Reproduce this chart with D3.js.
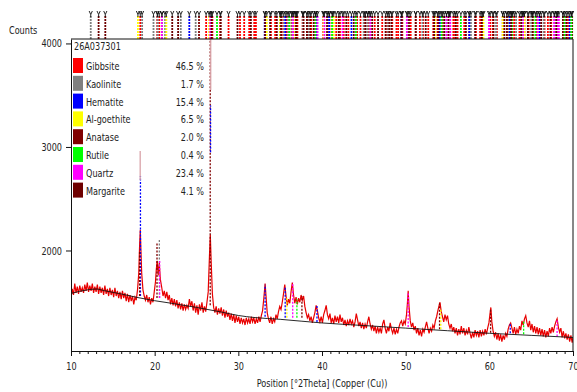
<!DOCTYPE html>
<meta charset="utf-8">
<script src="https://d3js.org/d3.v7.min.js"></script>
<style>
body { margin: 0; background: #fff; }
text { font-family: "DejaVu Sans Condensed", "Liberation Sans Narrow", Arial, sans-serif; fill: #222; }
</style>
<div id="chart"></div>
<script>

// ---- data ----
var sampleName = "26A037301";
var phases = ["Gibbsite", "Kaolinite", "Hematite", "Al-goethite", "Anatase", "Rutile", "Quartz", "Margarite"];
var percents = [46.5, 1.7, 15.4, 6.5, 2.0, 0.4, 23.4, 4.1];
var phaseColors = ["#ff0000", "#808080", "#0000ff", "#ffff00", "#800000", "#00ff00", "#ff00ff", "#6e0000"];

var xTicks = [10, 20, 30, 40, 50, 60, 70];
var yTicks = [2000, 3000, 4000];

// reference pattern positions (°2Theta), one list per phase
var sticks = {
  "Gibbsite": [18.28, 20.31, 20.55, 26.15, 26.9, 27.83, 28.83, 30.2, 30.7, 31.3, 31.9, 32.1, 33.9, 34.4, 35.2, 35.8, 36.36, 36.62, 37.06, 37.68, 38.2, 38.7, 39.25, 40.15, 40.9, 41.7, 42.15, 42.6, 43.15, 44.2, 44.6, 45.1, 45.5, 46.3, 47.2, 47.8, 48.4, 48.9, 49.1, 49.6, 50.6, 51.2, 51.7, 52.1, 52.7, 53.3, 53.8, 54.4, 55.2, 55.7, 55.9, 56.2, 57.0, 57.6, 58.4, 58.9, 59.2, 60.1, 60.4, 60.9, 61.6, 62.1, 62.8, 63.0, 63.6, 64.2, 64.7, 65.1, 65.6, 66.0, 66.6, 67.0, 67.4, 68.1, 68.8, 69.4, 69.8],
  "Kaolinite": [12.36, 18.5, 19.86, 20.36, 20.88, 21.24, 23.12, 24.9, 34.98, 35.42, 35.96, 36.44, 37.72, 38.42, 39.24, 40.7, 41.26, 44.98, 45.44, 45.72, 47.9, 50.2, 52.0, 54.88, 55.24, 57.8, 60.8, 62.3, 63.2, 65.0, 66.5, 67.8],
  "Hematite": [24.14, 33.15, 35.61, 39.28, 40.85, 43.52, 49.48, 54.09, 57.6, 62.45, 64.0, 66.0, 69.6],
  "Al-goethite": [18.0, 21.4, 26.5, 33.4, 35.0, 36.8, 40.2, 41.4, 53.5, 59.3, 61.6, 64.2, 65.2],
  "Anatase": [25.3, 36.95, 37.8, 38.6, 48.05, 53.9, 55.1, 62.1, 62.7, 68.8, 69.9],
  "Rutile": [27.45, 36.1, 39.2, 41.2, 44.05, 54.3, 56.6, 62.7, 64.0, 65.5, 69.0, 69.8],
  "Quartz": [20.86, 26.64, 36.54, 39.47, 40.29, 42.45, 45.79, 50.14, 54.87, 55.33, 59.96, 64.04, 65.79, 67.74, 68.14, 68.31],
  "Margarite": [13.3, 14.1, 22.1, 22.8, 26.8, 27.9, 29.9, 31.5, 33.2, 33.8, 34.6, 35.1, 36.9, 38.2, 39.0, 40.6, 42.0, 42.9, 43.8, 45.2, 46.0, 46.7, 47.6, 48.3, 49.5, 50.4, 51.2, 52.4, 53.4, 54.6, 56.0, 57.2, 58.3, 59.1, 60.5, 61.8, 62.6, 63.8, 64.6, 65.2, 66.2, 67.3, 68.0, 69.2]
};

// background (black line), [2Theta, counts]
var background = [[10, 1585], [12, 1620], [13, 1628], [14, 1612], [16, 1580], [18, 1545], [20, 1515], [22, 1490], [25, 1450], [28, 1405], [30, 1372], [32, 1352], [35, 1335], [40, 1300], [45, 1275], [50, 1250], [55, 1225], [60, 1200], [65, 1180], [70, 1160]];

// observed counts (red line), [2Theta, counts]
var observed = [
  [10.0,1540],[10.15,1630],[10.3,1570],[10.45,1680],[10.6,1590],[10.75,1650],[10.9,1580],[11.05,1660],[11.2,1600],[11.35,1640],
  [11.5,1590],[11.65,1670],[11.8,1610],[11.95,1690],[12.1,1600],[12.25,1660],[12.4,1610],[12.55,1680],[12.7,1590],[12.85,1650],
  [13.0,1600],[13.15,1670],[13.3,1580],[13.45,1650],[13.6,1590],[13.75,1640],[13.9,1570],[14.05,1660],[14.2,1580],[14.35,1630],
  [14.5,1560],[14.65,1640],[14.8,1570],[14.95,1620],[15.1,1550],[15.25,1640],[15.4,1560],[15.55,1610],[15.7,1540],[15.85,1600],
  [16.0,1530],[16.15,1610],[16.3,1540],[16.45,1590],[16.6,1510],[16.75,1580],[16.9,1500],[17.05,1570],[17.2,1510],[17.35,1560],
  [17.5,1480],[17.65,1550],[17.8,1520],[17.95,1620],[18.1,1780],[18.2,2050],[18.28,2200],[18.36,2000],[18.45,1780],[18.6,1620],
  [18.75,1560],[18.9,1520],[19.05,1570],[19.2,1500],[19.35,1550],[19.5,1480],[19.65,1540],[19.8,1500],[19.95,1600],[20.1,1700],
  [20.2,1820],[20.3,1900],[20.42,1760],[20.55,1880],[20.68,1720],[20.85,1640],[21.0,1560],[21.15,1610],[21.3,1540],[21.45,1600],
  [21.6,1520],[21.75,1570],[21.9,1480],[22.05,1540],[22.2,1470],[22.35,1530],[22.5,1460],[22.65,1520],[22.8,1440],[22.95,1500],
  [23.1,1430],[23.25,1490],[23.4,1420],[23.55,1480],[23.7,1430],[23.85,1470],[24.0,1440],[24.15,1530],[24.3,1460],[24.45,1510],
  [24.6,1420],[24.75,1490],[24.9,1400],[25.05,1470],[25.2,1380],[25.35,1480],[25.5,1420],[25.65,1500],[25.8,1400],[25.95,1460],
  [26.1,1410],[26.25,1500],[26.4,1600],[26.55,1950],[26.65,2150],[26.75,1900],[26.9,1580],[27.05,1450],[27.2,1400],[27.35,1460],
  [27.5,1380],[27.65,1440],[27.8,1390],[27.95,1450],[28.1,1370],[28.25,1430],[28.4,1350],[28.55,1420],[28.7,1360],[28.85,1400],
  [29.0,1330],[29.15,1390],[29.3,1320],[29.45,1380],[29.6,1300],[29.75,1370],[29.9,1310],[30.05,1360],[30.2,1290],[30.35,1350],
  [30.5,1300],[30.65,1340],[30.8,1280],[30.95,1350],[31.1,1300],[31.25,1340],[31.4,1290],[31.55,1360],[31.7,1310],[31.85,1350],
  [32.0,1290],[32.15,1340],[32.3,1300],[32.45,1360],[32.6,1310],[32.75,1370],[32.9,1420],[33.05,1540],[33.2,1680],[33.3,1570],
  [33.45,1400],[33.6,1340],[33.75,1300],[33.9,1360],[34.05,1290],[34.2,1340],[34.35,1310],[34.5,1380],[34.65,1340],[34.8,1410],
  [34.95,1460],[35.1,1430],[35.25,1500],[35.4,1580],[35.55,1670],[35.7,1560],[35.85,1470],[36.0,1530],[36.15,1490],[36.3,1600],
  [36.45,1690],[36.6,1570],[36.75,1490],[36.9,1550],[37.05,1480],[37.2,1540],[37.35,1500],[37.5,1570],[37.65,1520],[37.8,1560],
  [37.95,1460],[38.1,1400],[38.25,1350],[38.4,1380],[38.55,1320],[38.7,1360],[38.85,1300],[39.0,1350],[39.15,1400],[39.3,1470],
  [39.45,1420],[39.6,1350],[39.75,1310],[39.9,1360],[40.05,1300],[40.2,1380],[40.35,1420],[40.5,1470],[40.65,1380],[40.8,1340],
  [40.95,1390],[41.1,1300],[41.25,1350],[41.4,1290],[41.55,1370],[41.7,1310],[41.85,1360],[42.0,1300],[42.15,1380],[42.3,1310],
  [42.45,1350],[42.6,1280],[42.75,1330],[42.9,1270],[43.05,1320],[43.2,1280],[43.35,1340],[43.5,1290],[43.65,1320],[43.8,1260],
  [43.95,1310],[44.1,1390],[44.25,1330],[44.4,1270],[44.55,1310],[44.7,1250],[44.85,1300],[45.0,1240],[45.15,1290],[45.3,1250],
  [45.45,1310],[45.6,1360],[45.75,1290],[45.9,1240],[46.05,1280],[46.2,1220],[46.35,1270],[46.5,1200],[46.65,1260],[46.8,1210],
  [46.95,1250],[47.1,1200],[47.25,1290],[47.4,1330],[47.55,1250],[47.7,1200],[47.85,1260],[48.0,1220],[48.15,1300],[48.3,1240],
  [48.45,1200],[48.6,1250],[48.75,1190],[48.9,1240],[49.05,1200],[49.2,1260],[49.35,1300],[49.5,1320],[49.65,1270],[49.8,1320],
  [49.95,1290],[50.1,1380],[50.2,1480],[50.3,1610],[50.4,1460],[50.55,1320],[50.7,1260],[50.85,1300],[51.0,1230],[51.15,1270],
  [51.3,1200],[51.45,1250],[51.6,1180],[51.75,1230],[51.9,1170],[52.05,1240],[52.2,1210],[52.35,1260],[52.5,1310],[52.65,1250],
  [52.8,1200],[52.95,1250],[53.1,1220],[53.25,1280],[53.4,1250],[53.55,1320],[53.7,1360],[53.85,1420],[54.0,1470],[54.1,1500],
  [54.25,1410],[54.4,1360],[54.55,1310],[54.7,1380],[54.85,1330],[55.0,1370],[55.15,1290],[55.3,1250],[55.45,1290],[55.6,1220],
  [55.75,1260],[55.9,1200],[56.05,1250],[56.2,1180],[56.35,1240],[56.5,1190],[56.65,1270],[56.8,1200],[56.95,1250],[57.1,1180],
  [57.25,1230],[57.4,1190],[57.55,1260],[57.7,1200],[57.85,1150],[58.0,1210],[58.15,1160],[58.3,1230],[58.45,1180],[58.6,1220],
  [58.75,1160],[58.9,1230],[59.05,1170],[59.2,1220],[59.35,1180],[59.5,1240],[59.65,1190],[59.8,1250],[59.95,1300],[60.1,1400],
  [60.18,1450],[60.3,1310],[60.45,1220],[60.6,1170],[60.75,1210],[60.9,1140],[61.05,1200],[61.2,1130],[61.35,1190],[61.5,1120],
  [61.65,1180],[61.8,1140],[61.95,1200],[62.1,1170],[62.25,1240],[62.4,1280],[62.55,1300],[62.7,1250],[62.85,1200],[63.0,1260],
  [63.15,1190],[63.3,1240],[63.45,1200],[63.6,1270],[63.75,1230],[63.9,1320],[64.05,1280],[64.2,1340],[64.35,1370],[64.5,1300],
  [64.65,1260],[64.8,1320],[64.95,1230],[65.1,1290],[65.25,1210],[65.4,1270],[65.55,1200],[65.7,1260],[65.85,1190],[66.0,1250],
  [66.15,1180],[66.3,1240],[66.45,1170],[66.6,1230],[66.75,1160],[66.9,1220],[67.05,1170],[67.2,1250],[67.35,1200],[67.5,1260],
  [67.65,1210],[67.8,1270],[67.95,1310],[68.1,1340],[68.25,1260],[68.4,1210],[68.55,1250],[68.7,1160],[68.85,1220],[69.0,1150],
  [69.15,1200],[69.3,1140],[69.45,1190],[69.6,1120],[69.75,1180],[69.9,1110],[70.0,1160]
];

// phase profile marks drawn in the plot: [2Theta, from counts, to counts, key]
var profileMarks = [
  [18.3, 1560, 2720, "Hematite"], [18.27, 2680, 2960, "Calc"], [18.2, 1560, 2000, "Anatase"],
  [20.28, 1540, 2080, "Anatase"], [20.56, 1540, 2115, "Kaolinite"], [20.6, 1540, 1900, "Quartz"],
  [26.64, 1470, 4043, "Anatase"], [26.68, 2950, 3400, "Hematite"], [26.7, 3550, 4043, "Calc"],
  [33.2, 1360, 1670, "Hematite"], [35.6, 1350, 1650, "Hematite"], [35.8, 1350, 1540, "Al-goethite"],
  [36.5, 1350, 1690, "Quartz"], [37.0, 1350, 1530, "Rutile"], [37.6, 1350, 1560, "Anatase"],
  [39.4, 1310, 1470, "Hematite"], [50.3, 1260, 1600, "Quartz"], [54.05, 1240, 1490, "Anatase"],
  [54.2, 1240, 1440, "Al-goethite"], [60.15, 1205, 1440, "Anatase"], [64.1, 1190, 1320, "Rutile"],
  [62.5, 1200, 1290, "Hematite"], [68.1, 1170, 1330, "Quartz"]
];

// ---- layout ----
var W = 577, H = 392;
var x = d3.scaleLinear().domain([10, 70]).range([71, 573]);
var y = d3.scaleLinear().domain([1029, 4043]).range([351, 39]);
var colorOf = d3.scaleOrdinal().domain(phases.concat(["Calc"])).range(phaseColors.concat(["#d9a3a8"]));
var narrow = 0.82;   // horizontal squeeze of the narrow font

var svg = d3.select("#chart").append("svg")
  .attr("width", W).attr("height", H);

svg.append("clipPath").attr("id", "plotclip")
  .append("rect").attr("x", 71).attr("y", 39).attr("width", 502).attr("height", 312);

// small helper for squeezed labels
function label(g, px, py, str, anchor) {
  return g.append("text")
    .attr("transform", "translate(" + px + "," + py + ") scale(" + narrow + ",1)")
    .attr("text-anchor", anchor || "start")
    .style("font-size", "11px")
    .text(str);
}

// ---- top strip of reference sticks ----
var stickData = [];
phases.forEach(function(p) {
  sticks[p].forEach(function(t) { stickData.push({t: t, p: p}); });
});
var strip = svg.append("g");
strip.selectAll("line.stk")
  .data(stickData)
  .enter().append("line")
    .attr("x1", function(d) { return x(d.t); })
    .attr("x2", function(d) { return x(d.t); })
    .attr("y1", 39).attr("y2", 15)
    .attr("stroke", function(d) { return colorOf(d.p); })
    .attr("stroke-width", 1.8)
    .attr("stroke-dasharray", "2,1");
strip.selectAll("path.yy")
  .data(stickData)
  .enter().append("path")
    .attr("d", function(d) {
      var cx = x(d.t);
      return "M" + (cx - 1.6) + ",11 L" + cx + ",14.5 L" + (cx + 1.6) + ",11 M" + cx + ",14.5 L" + cx + ",17";
    })
    .attr("fill", "none")
    .attr("stroke", "#111")
    .attr("stroke-width", 0.9);

// ---- plot ----
var plot = svg.append("g").attr("clip-path", "url(#plotclip)");

var line = d3.line()
  .x(function(d) { return x(d[0]); })
  .y(function(d) { return y(d[1]); });

plot.append("path")
  .datum(observed)
  .attr("d", line)
  .attr("fill", "none")
  .attr("stroke", "#e80000")
  .attr("stroke-width", 1.2);

plot.selectAll("line.mark")
  .data(profileMarks)
  .enter().append("line")
    .attr("x1", function(d) { return x(d[0]); })
    .attr("x2", function(d) { return x(d[0]); })
    .attr("y1", function(d) { return y(d[1]); })
    .attr("y2", function(d) { return y(d[2]); })
    .attr("stroke", function(d) { return colorOf(d[3]); })
    .attr("stroke-width", 1.3)
    .attr("stroke-dasharray", function(d) { return d[3] === "Calc" ? null : "2,1.5"; });

plot.append("path")
  .datum(background)
  .attr("d", d3.line().curve(d3.curveMonotoneX)
    .x(function(d) { return x(d[0]); })
    .y(function(d) { return y(d[1]); }))
  .attr("fill", "none")
  .attr("stroke", "#111")
  .attr("stroke-width", 0.9);

// ---- frame and axes ----
svg.append("line").attr("x1", 71).attr("x2", 573).attr("y1", 39).attr("y2", 39).attr("stroke", "#111");
svg.append("line").attr("x1", 573).attr("x2", 573).attr("y1", 39).attr("y2", 351).attr("stroke", "#111");

svg.append("g")
  .attr("class", "xaxis")
  .attr("transform", "translate(0,351)")
  .call(d3.axisBottom(x).tickValues(xTicks).tickSize(5).tickSizeOuter(0).tickPadding(6).tickFormat(d3.format("d")));
svg.append("g")
  .attr("transform", "translate(0,351)")
  .call(d3.axisBottom(x).tickValues(d3.range(11, 70).filter(function(v) { return v % 10 !== 0; }))
    .tickSize(3).tickFormat("")).select(".domain").remove();

svg.append("g")
  .attr("class", "yaxis")
  .attr("transform", "translate(71,0)")
  .call(d3.axisLeft(y).tickValues(yTicks).tickSize(5).tickSizeOuter(0).tickPadding(4).tickFormat(d3.format("d")));

svg.selectAll(".tick text")
  .style("font-size", "11px")
  .attr("fill", "#222")
  .attr("transform", "scale(" + narrow + ",1)");
svg.selectAll(".yaxis .tick text").attr("x", -9 / narrow);
svg.selectAll(".domain, .tick line").attr("stroke", "#111");

label(svg, 9, 34, "Counts");
label(svg, 322, 387, "Position [°2Theta] (Copper (Cu))", "middle");

// ---- legend ----
var leg = svg.append("g");
label(leg, 74, 50, sampleName);
var rows = leg.selectAll("g.row")
  .data(phases)
  .enter().append("g")
    .attr("transform", function(d, i) { return "translate(0," + (66 + i * 17.8) + ")"; });
rows.append("rect")
  .attr("x", 73).attr("y", -8).attr("width", 10).attr("height", 15)
  .attr("fill", function(d) { return colorOf(d); });
rows.each(function(d, i) {
  var r = d3.select(this);
  label(r, 86, 4, d);
  label(r, 204, 4, percents[i].toFixed(1) + " %", "end");
});

</script>
